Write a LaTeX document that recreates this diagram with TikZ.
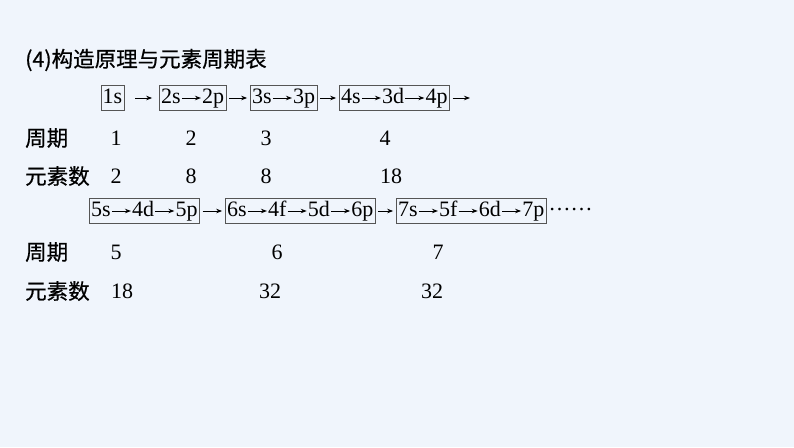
\documentclass[tikz,border=0pt]{standalone}
\usepackage{fontspec}
\setmainfont{Liberation Serif}
\newfontfamily\cjk[FakeBold=0.6]{Noto Sans CJK SC}
\usetikzlibrary{fit,positioning,arrows.meta}
\definecolor{bg}{RGB}{240,245,252}
\definecolor{boxgray}{RGB}{85,85,85}

\begin{document}
\begin{tikzpicture}[x=1pt,y=-1pt,
  orb/.style={inner sep=0pt,text height=15pt,text depth=5pt,font=\fontsize{22}{22}\selectfont},
  grp/.style={draw=boxgray,line width=0.7pt,inner xsep=1.5pt,inner ysep=2.5pt},
  num/.style={font=\fontsize{22}{22}\selectfont},
  lab/.style={anchor=west,inner sep=0pt,font=\cjk\fontsize{21.5}{21.5}\selectfont},
  arr/.style={-{Stealth[length=6pt,width=4.5pt]},line width=0.9pt}]
\fill[bg] (0,0) rectangle (794,447);
\useasboundingbox (0,0) rectangle (794,447);
\node[lab] (title) at (25,60) {(4)构造原理与元素周期表};
\node[orb,anchor=west] (o1s) at (102.5,98) {1s};
\node[grp,fit=(o1s)] (b1) {};
\node[orb,anchor=west] (o2s) at (161,98) {2s};
\node[orb,right=21pt of o2s] (o2p) {2p};
\node[grp,fit=(o2s)(o2p)] (b2) {};
\node[orb,anchor=west] (o3s) at (252,98) {3s};
\node[orb,right=21pt of o3s] (o3p) {3p};
\node[grp,fit=(o3s)(o3p)] (b3) {};
\node[orb,anchor=west] (o4s) at (341,98) {4s};
\node[orb,right=21pt of o4s] (o3d) {3d};
\node[orb,right=21pt of o3d] (o4p) {4p};
\node[grp,fit=(o4s)(o4p)] (b4) {};
\coordinate (e1) at (470,98);
\path[draw,arr,shorten <=1pt,shorten >=1pt] (o2s) edge (o2p);
\path[draw,arr,shorten <=1pt,shorten >=1pt] (o3s) edge (o3p);
\path[draw,arr,shorten <=1pt,shorten >=1pt] (o4s) edge (o3d);
\path[draw,arr,shorten <=1pt,shorten >=1pt] (o3d) edge (o4p);
\path[draw,arr,shorten <=11pt,shorten >=7pt] (b1) edge (b2);
\path[draw,arr,shorten <=3pt,shorten >=3pt] (b2) edge (b3);
\path[draw,arr,shorten <=3pt,shorten >=3pt] (b3) edge (b4);
\path[draw,arr,shorten <=3pt] (b4) edge (e1);
\node[lab] (per1) at (25,138) {周期};
\node[num] (p1) at (116,138) {1};
\node[num] (p2) at (191,138) {2};
\node[num] (p3) at (266,138) {3};
\node[num] (p4) at (385,138) {4};
\node[lab] (cnt1) at (25,176) {元素数};
\node[num] (n1) at (116,176) {2};
\node[num] (n2) at (191,176) {8};
\node[num] (n3) at (266,176) {8};
\node[num] (n4) at (391,176) {18};
\node[orb,anchor=west] (o5s) at (91,211) {5s};
\node[orb,right=21pt of o5s] (o4d) {4d};
\node[orb,right=21pt of o4d] (o5p) {5p};
\node[grp,fit=(o5s)(o5p)] (b5) {};
\node[orb,anchor=west] (o6s) at (227,211) {6s};
\node[orb,right=21pt of o6s] (o4f) {4f};
\node[orb,right=21pt of o4f] (o5d) {5d};
\node[orb,right=21pt of o5d] (o6p) {6p};
\node[grp,fit=(o6s)(o6p)] (b6) {};
\node[orb,anchor=west] (o7s) at (398,211) {7s};
\node[orb,right=21pt of o7s] (o5f) {5f};
\node[orb,right=21pt of o5f] (o6d) {6d};
\node[orb,right=21pt of o6d] (o7p) {7p};
\node[grp,fit=(o7s)(o7p)] (b7) {};
\node[orb,right=2pt of b7] (more) {\raisebox{6pt}{……}};
\path[draw,arr,shorten <=1pt,shorten >=1pt] (o5s) edge (o4d);
\path[draw,arr,shorten <=1pt,shorten >=1pt] (o4d) edge (o5p);
\path[draw,arr,shorten <=1pt,shorten >=1pt] (o6s) edge (o4f);
\path[draw,arr,shorten <=1pt,shorten >=1pt] (o4f) edge (o5d);
\path[draw,arr,shorten <=1pt,shorten >=1pt] (o5d) edge (o6p);
\path[draw,arr,shorten <=1pt,shorten >=1pt] (o7s) edge (o5f);
\path[draw,arr,shorten <=1pt,shorten >=1pt] (o5f) edge (o6d);
\path[draw,arr,shorten <=1pt,shorten >=1pt] (o6d) edge (o7p);
\path[draw,arr,shorten <=3pt,shorten >=3pt] (b5) edge (b6);
\path[draw,arr,shorten <=3pt,shorten >=3pt] (b6) edge (b7);
\node[lab] (per2) at (25,252) {周期};
\node[num] (p5) at (116,252) {5};
\node[num] (p6) at (277,252) {6};
\node[num] (p7) at (438,252) {7};
\node[lab] (cnt2) at (25,291) {元素数};
\node[num] (n5) at (122,291) {18};
\node[num] (n6) at (270,291) {32};
\node[num] (n7) at (432,291) {32};
\end{tikzpicture}
\end{document}
